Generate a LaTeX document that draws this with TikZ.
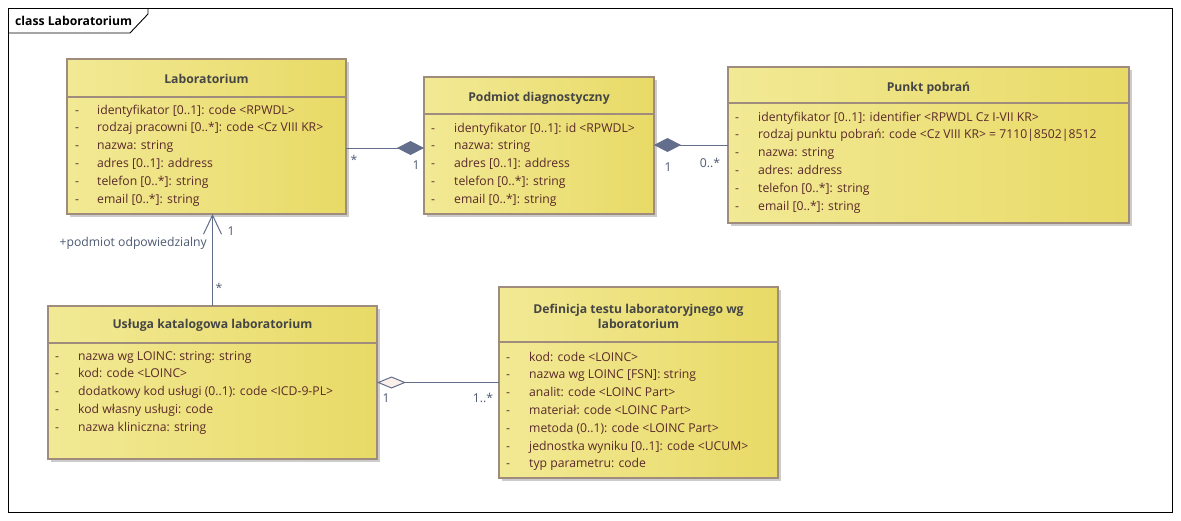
\documentclass[tikz,border=0pt]{standalone}
\usepackage{fontspec}
\setmainfont{Open Sans}
\usetikzlibrary{arrows.meta,shadows,calc}
\definecolor{fillL}{HTML}{F2E995}
\definecolor{fillR}{HTML}{E8DA66}
\definecolor{bord}{HTML}{A08C7C}
\definecolor{connc}{HTML}{636E8C}
\definecolor{attrc}{HTML}{5A2A2A}
\definecolor{titc}{HTML}{454545}
\definecolor{labc}{HTML}{4E5A72}
\definecolor{diaf}{HTML}{FBEFEA}
\begin{document}
\begin{tikzpicture}[x=1pt,y=-1pt,
  classbox/.style={draw=bord, line width=1.1pt, left color=fillL, right color=fillR,
    inner sep=0pt, outer sep=0pt, anchor=north west,
    drop shadow={shadow xshift=3pt, shadow yshift=-3pt, fill=black!20, opacity=1}},
  sepline/.style={draw=bord, line width=1.1pt},
  titlef/.style={font=\fontsize{12.2}{15.5}\selectfont\bfseries, text=titc, inner sep=0pt, align=center},
  attrf/.style={font=\fontsize{12.2}{17.8}\selectfont, text=attrc, inner sep=0pt, anchor=base west},
  assoc/.style={draw=connc, line width=1pt},
  mult/.style={font=\fontsize{12.2}{14}\selectfont, text=labc, inner sep=0pt},
  fdiam/.tip={Diamond[length=27pt,width=14pt,fill=connc]},
  odiam/.tip={Diamond[length=29pt,width=12pt,fill=diaf]},
  barb/.tip={Straight Barb[length=19pt,width=18pt]}
]
\useasboundingbox (0,0) rectangle (1181,520);
\fill[white] (0,0) rectangle (1181,520);

% frame
\draw[black, line width=0.9pt] (8,8) rectangle (1172,512);
\draw[black, line width=0.9pt] (8,33) -- (130,33) -- (148,14) -- (148,8);
\node[font=\fontsize{12.2}{14}\selectfont\bfseries, anchor=west, inner sep=0pt] (ftitle) at (15,20.5) {class Laboratorium};

% Laboratorium
\node[classbox, minimum width=279pt, minimum height=155pt] (lab) at (67,59) {};
\draw[sepline] ([yshift=-38pt]lab.north west) -- ([yshift=-38pt]lab.north east);
\node[titlef] (labt) at ($(lab.north)+(0,20)$) {Laboratorium};
\node[attrf] (laba) at (75,114) {\begin{tabular}[t]{@{}p{22pt}@{}l@{}}
-&identyfikator [0..1]: code <RPWDL>\\
-&rodzaj pracowni [0..*]: code <Cz VIII KR>\\
-&nazwa: string\\
-&adres [0..1]: address\\
-&telefon [0..*]: string\\
-&email [0..*]: string
\end{tabular}};

% Podmiot diagnostyczny
\node[classbox, minimum width=230pt, minimum height=137pt] (pod) at (424,77) {};
\draw[sepline] ([yshift=-37pt]pod.north west) -- ([yshift=-37pt]pod.north east);
\node[titlef] (podt) at ($(pod.north)+(0,21)$) {Podmiot diagnostyczny};
\node[attrf] (poda) at (431,132) {\begin{tabular}[t]{@{}p{23pt}@{}l@{}}
-&identyfikator [0..1]: id <RPWDL>\\
-&nazwa: string\\
-&adres [0..1]: address\\
-&telefon [0..*]: string\\
-&email [0..*]: string
\end{tabular}};

% Punkt pobran
\node[classbox, minimum width=401pt, minimum height=156pt] (pk) at (728,67) {};
\draw[sepline] ([yshift=-36pt]pk.north west) -- ([yshift=-36pt]pk.north east);
\node[titlef] (pkt) at ($(pk.north)+(0,21)$) {Punkt pobrań};
\node[attrf] (pka) at (735,121) {\begin{tabular}[t]{@{}p{23pt}@{}l@{}}
-&identyfikator [0..1]: identifier <RPWDL Cz I-VII KR>\\
-&rodzaj punktu pobrań: code <Cz VIII KR> = 7110|8502|8512\\
-&nazwa: string\\
-&adres: address\\
-&telefon [0..*]: string\\
-&email [0..*]: string
\end{tabular}};

% Usluga katalogowa laboratorium
\node[classbox, minimum width=329pt, minimum height=153pt] (us) at (48,306) {};
\draw[sepline] ([yshift=-37pt]us.north west) -- ([yshift=-37pt]us.north east);
\node[titlef] (ust) at ($(us.north)+(0,19)$) {Usługa katalogowa laboratorium};
\node[attrf] (usa) at (55,360) {\begin{tabular}[t]{@{}p{23pt}@{}l@{}}
-&nazwa wg LOINC: string: string\\
-&kod: code <LOINC>\\
-&dodatkowy kod usługi (0..1): code <ICD-9-PL>\\
-&kod własny usługi: code\\
-&nazwa kliniczna: string
\end{tabular}};

% Definicja testu
\node[classbox, minimum width=279pt, minimum height=191pt] (def) at (499,287) {};
\draw[sepline] ([yshift=-55pt]def.north west) -- ([yshift=-55pt]def.north east);
\node[titlef] (deft) at ($(def.north)+(0,29.5)$) {Definicja testu laboratoryjnego wg\\laboratorium};
\node[attrf] (defa) at (506,361) {\begin{tabular}[t]{@{}p{23pt}@{}l@{}}
-&kod: code <LOINC>\\
-&nazwa wg LOINC [FSN]: string\\
-&analit: code <LOINC Part>\\
-&materiał: code <LOINC Part>\\
-&metoda (0..1): code <LOINC Part>\\
-&jednostka wyniku [0..1]: code <UCUM>\\
-&typ parametru: code
\end{tabular}};

% connectors
\coordinate (a1) at ($(lab.east)+(0,11.5)$);
\draw[assoc, -{fdiam}] (a1) -- (a1 -| pod.west);
\coordinate (b1) at ($(pod.east)+(0,-0.5)$);
\draw[assoc, {fdiam}-] (b1) -- (b1 -| pk.west);
\draw[assoc, -{barb}] (us.north) -- (us.north |- lab.south);
\draw[assoc, {odiam}-] (us.east) -- (us.east -| def.west);

% multiplicities and roles
\node[mult] (m1) at (354,160) {*};
\node[mult] (m2) at (416,165) {1};
\node[mult] (m3) at (668,167) {1};
\node[mult] (m4) at (710,163) {0..*};
\node[mult] (m5) at (231,231) {1};
\node[mult, anchor=east] (m6) at (207,243) {+podmiot odpowiedzialny};
\node[mult] (m7) at (219,288) {*};
\node[mult] (m8) at (386,398) {1};
\node[mult] (m9) at (483,398) {1..*};
\end{tikzpicture}
\end{document}
